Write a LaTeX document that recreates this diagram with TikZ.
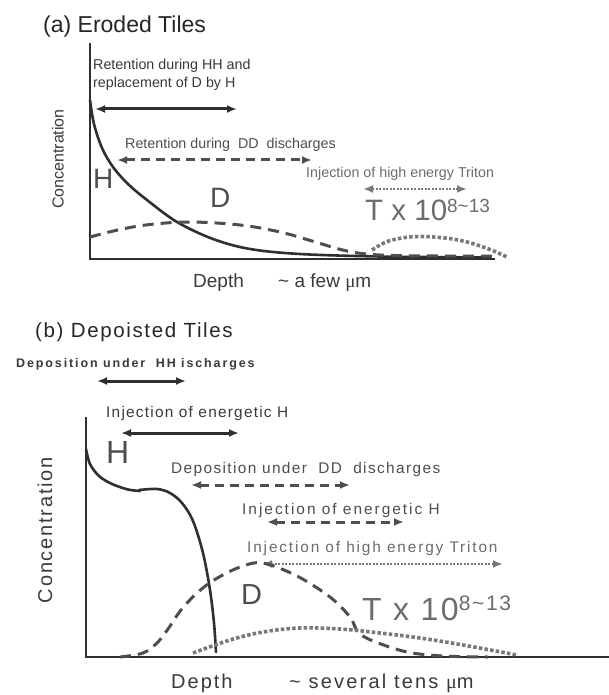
\documentclass[tikz,border=0pt]{standalone}
\usepackage{fontspec}
\setmainfont{Liberation Sans}
\newfontfamily\mufont{Liberation Serif}
\usetikzlibrary{arrows.meta}
\definecolor{inkdark}{HTML}{2F2F2F}
\definecolor{inktext}{HTML}{3A3A3A}
\definecolor{inkdash}{HTML}{4E4E4E}
\definecolor{inkdot}{HTML}{787878}
\definecolor{inktri}{HTML}{6C6C6C}
\newcommand\myfs[1]{\fontsize{#1}{#1}\selectfont}
\newcommand\myls[1]{\addfontfeatures{LetterSpace=#1}}
\tikzset{
  lbl/.style={inner sep=0pt, anchor=base west, text=inktext},
  trilbl/.style={inner sep=0pt, anchor=base west, text=inktri},
  axisline/.style={draw=inkdark, line width=2pt},
  hcurve/.style={draw=inkdark, line width=2.6pt, line cap=round},
  dcurve/.style={draw=inkdash, line width=3pt, dash pattern=on 11pt off 7pt},
  tcurve/.style={draw=inkdot, line width=3.6pt, dash pattern=on 3.5pt off 2.2pt},
  solidarrow/.style={draw=inkdark, line width=3pt, {Latex[length=10pt,width=8pt]}-{Latex[length=10pt,width=8pt]}},
  dasharrow/.style={draw=inkdash, line width=3pt, dash pattern=on 9pt off 6pt, {Latex[length=10pt,width=8pt]}-{Latex[length=10pt,width=8pt]}},
  dotarrow/.style={draw=inkdot, line width=2.8pt, dash pattern=on 2pt off 1.5pt, {Latex[length=10pt,width=8pt]}-{Latex[length=10pt,width=8pt]}},
}
\begin{document}
\begin{tikzpicture}[x=1pt,y=-1pt]
\useasboundingbox (0,0) rectangle (609,695);
\fill[white] (0,0) rectangle (609,695);

% ================= (a) =================
\node[lbl, text=black!85] (tA) at (43,33) {\myfs{23}(a) Eroded Tiles};
\coordinate (aTop) at (90,43);
\coordinate (aO) at (90,259);
\coordinate (aEnd) at (495,259);
\draw[axisline] (aTop) -- (aO) -- (aEnd);
\node[inner sep=0pt, rotate=90, text=inktext] (aConc) at (58,159) {\myfs{16}Concentration};
\node[lbl] (aDepth) at (193,287) {\myfs{19}Depth};
\node[lbl] (aFew) at (278,287) {\myfs{19}\textasciitilde\ a few {\mufont μ}m};

\node[lbl] (aR1) at (93,70) {\myfs{14.3}Retention during HH and};
\node[lbl] (aR2) at (93,88) {\myfs{14.3}replacement of D by H};
\coordinate (aA1l) at (95,109); \coordinate (aA1r) at (237,109);
\draw[solidarrow] (aA1l) -- (aA1r);

\node[lbl, text=inkdash] (aR3) at (125,149) {\myfs{14.3}Retention during\ \ DD\ \ discharges};
\coordinate (aA2l) at (117,160); \coordinate (aA2r) at (312,160);
\draw[dasharrow] (aA2l) -- (aA2r);

\node[trilbl] (aTri) at (306,178) {\myfs{14.3}Injection of high energy Triton};
\coordinate (aA3l) at (363,189); \coordinate (aA3r) at (467,189);
\draw[dotarrow] (aA3l) -- (aA3r);
\node[trilbl] (aT) at (365,220) {\myfs{29.5}T x 10\raisebox{8pt}{\myfs{19}8\textasciitilde13}};

\node[lbl, text=inkdash] (aH) at (93,188) {\myfs{28}H};
\node[lbl, text=inkdash] (aD) at (210,207) {\myfs{28}D};

\draw[hcurve] plot[smooth, tension=0.55] coordinates {(90,100) (94,124) (102,148) (113,167) (128,184) (147,200) (177,222) (213,239) (250,249) (300,254) (380,256.5) (490,257.5)};
\draw[dcurve] plot[smooth, tension=0.6] coordinates {(90,237) (120,229.5) (150,224.5) (190,222) (240,225) (280,232) (312,241) (347,251) (380,255) (440,256) (492,256)};
\draw[tcurve] plot[smooth, tension=0.6] coordinates {(372,250) (386,242) (402,238) (420,236.5) (445,238) (467,242) (490,249.5) (507,257)};

% ================= (b) =================
\node[lbl, text=black!85] (tB) at (35,337) {\myfs{20.5}\myls{8}(b) Depoisted Tiles};
\coordinate (bTop) at (86,417);
\coordinate (bO) at (86,657);
\coordinate (bEnd) at (609,657);
\draw[axisline] (bTop) -- (bO) -- (bEnd);
\node[inner sep=0pt, rotate=90, text=inktext] (bConc) at (45,530) {\myfs{20}\myls{9}Concentration};
\node[lbl] (bDepth) at (171,688) {\myfs{20}\myls{10}Depth};
\node[lbl] (bSev) at (289,688) {\myfs{20}\myls{11}\textasciitilde\ several tens {\mufont μ}m};

\node[lbl, text=inktext] (bHH) at (16,367) {\myfs{12.5}\bfseries\myls{15}Deposition under\ \ HH ischarges};
\coordinate (bA1l) at (97,381); \coordinate (bA1r) at (186,381);
\draw[solidarrow] (bA1l) -- (bA1r);

\node[lbl] (bIH1) at (106,417) {\myfs{15.4}\myls{8}Injection of energetic H};
\coordinate (bA2l) at (121,433); \coordinate (bA2r) at (239,433);
\draw[solidarrow] (bA2l) -- (bA2r);

\node[lbl, text=inkdash] (bH) at (106,463) {\myfs{32}H};

\node[lbl, text=inkdash] (bDD) at (171,473) {\myfs{15.4}\myls{9}Deposition under\ \ DD\ \ discharges};
\coordinate (bA3l) at (191,485); \coordinate (bA3r) at (350,485);
\draw[dasharrow] (bA3l) -- (bA3r);

\node[lbl, text=inkdash] (bIH2) at (242,514) {\myfs{15.4}\myls{13}Injection of energetic H};
\coordinate (bA4l) at (267,522); \coordinate (bA4r) at (404,522);
\draw[dasharrow] (bA4l) -- (bA4r);

\node[trilbl] (bTri) at (247,552) {\myfs{15.4}\myls{12}Injection of high energy Triton};
\coordinate (bA5l) at (262,564); \coordinate (bA5r) at (503,564);
\draw[dotarrow] (bA5l) -- (bA5r);

\node[lbl, text=inkdash] (bD) at (241,604) {\myfs{29}D};
\node[trilbl] (bT) at (362,620) {\myfs{32}\myls{8}T x 10\raisebox{10pt}{\myfs{21}\myls{8}8\textasciitilde13}};

\draw[hcurve] plot[smooth, tension=0.55] coordinates {(86,449) (90,464) (99,476) (112,484) (128,489.5) (140,491)};
\draw[hcurve] plot[smooth, tension=0.55] coordinates {(139,490) (157,489) (170,493) (182,503) (193,521) (203,553) (210,590) (214,623) (216,652)};
\draw[dcurve] plot[smooth, tension=0.55] coordinates {(120,657) (143,653) (157,643) (168,629) (181,610) (197,593) (214,580) (240,567) (263,563) (297,576) (330,597) (350,617) (358,632) (373,641) (407,652) (443,656) (488,657)};
\draw[tcurve] plot[smooth, tension=0.6] coordinates {(193,653) (230,640) (263,632) (300,628) (340,629) (380,633) (420,638) (463,645) (517,655)};
\end{tikzpicture}
\end{document}
